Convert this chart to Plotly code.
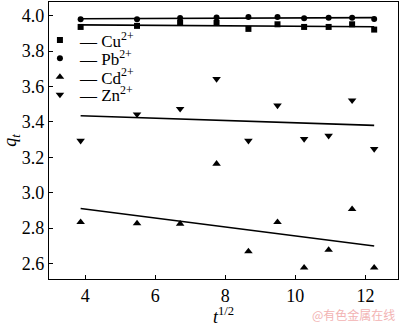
import numpy as np
import plotly.graph_objects as go

# sqrt(t) values
x_vals = [3.87, 5.48, 6.71, 7.75, 8.66, 9.49, 10.25, 10.95, 11.62, 12.25]

cu_vals = [3.937, 3.943, 3.961, 3.960, 3.926, 3.952, 3.937, 3.937, 3.952, 3.922]
pb_vals = [3.980, 3.980, 3.988, 3.990, 3.993, 3.993, 3.986, 3.989, 3.989, 3.982]
cd_vals = [2.833, 2.826, 2.824, 3.163, 2.668, 2.833, 2.576, 2.676, 2.907, 2.576]
zn_vals = [3.294, 3.443, 3.474, 3.643, 3.294, 3.493, 3.304, 3.322, 3.522, 3.247]

series_names = ["Cu<sup>2+</sup>", "Pb<sup>2+</sup>", "Cd<sup>2+</sup>", "Zn<sup>2+</sup>"]
series_vals = [cu_vals, pb_vals, cd_vals, zn_vals]
symbols = ["square", "circle", "triangle-up", "triangle-down"]
sizes = [6, 6, 7.5, 7.5]

x_ticks = [4, 6, 8, 10, 12]
y_ticks = [2.6, 2.8, 3.0, 3.2, 3.4, 3.6, 3.8, 4.0]

serif = "Liberation Serif"

fig = go.Figure()
xa = np.array(x_vals)
for name, vals, sym, sz in zip(series_names, series_vals, symbols, sizes):
    k, b = np.polyfit(xa, np.array(vals), 1)
    xs = [xa.min(), xa.max()]
    fig.add_trace(go.Scatter(x=xs, y=[k * v + b for v in xs], mode="lines",
                             line=dict(color="black", width=1.6),
                             showlegend=False, hoverinfo="skip"))

legend_ids = ["legend", "legend2", "legend3", "legend4"]
legend_y = [0.861, 0.795, 0.728, 0.664]
for name, vals, sym, sz, lid in zip(series_names, series_vals, symbols, sizes, legend_ids):
    fig.add_trace(go.Scatter(x=x_vals, y=vals, mode="markers",
                             name="\u2014 " + name, legend=lid,
                             marker=dict(symbol=sym, size=sz, color="black",
                                         line=dict(width=0))))

legend_common = dict(xanchor="left", yanchor="middle",
                     bgcolor="rgba(0,0,0,0)", borderwidth=0,
                     font=dict(family=serif, size=17, color="black"),
                     itemwidth=30)
layout_legends = {lid: dict(x=-0.026, y=ly, **legend_common)
                  for lid, ly in zip(legend_ids, legend_y)}

fig.update_layout(
    width=400, height=327,
    margin=dict(l=49, r=2, t=1, b=45),
    paper_bgcolor="white", plot_bgcolor="white",
    font=dict(family=serif, size=17, color="black"),
    showlegend=True,
    xaxis=dict(range=[2.967, 12.93], tickvals=x_ticks, ticks="inside",
               ticklen=4, tickwidth=1, tickcolor="black",
               showline=True, linecolor="black", linewidth=1.2, mirror=True,
               showgrid=False, zeroline=False,
               tickfont=dict(family=serif, size=18),
               title=dict(text="<i>t</i><sup>1/2</sup>", standoff=8,
                          font=dict(family=serif, size=18))),
    yaxis=dict(range=[2.512, 4.078], tickvals=y_ticks, tickformat=".1f",
               ticks="inside", ticklen=4, tickwidth=1, tickcolor="black",
               showline=True, linecolor="black", linewidth=1.2, mirror=True,
               showgrid=False, zeroline=False,
               tickfont=dict(family=serif, size=18),
               title=dict(text="<i>q</i><sub><i>t</i></sub>", standoff=6,
                          font=dict(family=serif, size=18))),
    annotations=[dict(text="@有色金属在线", xref="paper", yref="paper",
                      x=0.997, y=-0.128, xanchor="right", yanchor="middle",
                      showarrow=False,
                      font=dict(family="Noto Sans CJK SC", size=12, color="#f2b3b3"))],
    **layout_legends,
)

fig.write_html("out.html")
